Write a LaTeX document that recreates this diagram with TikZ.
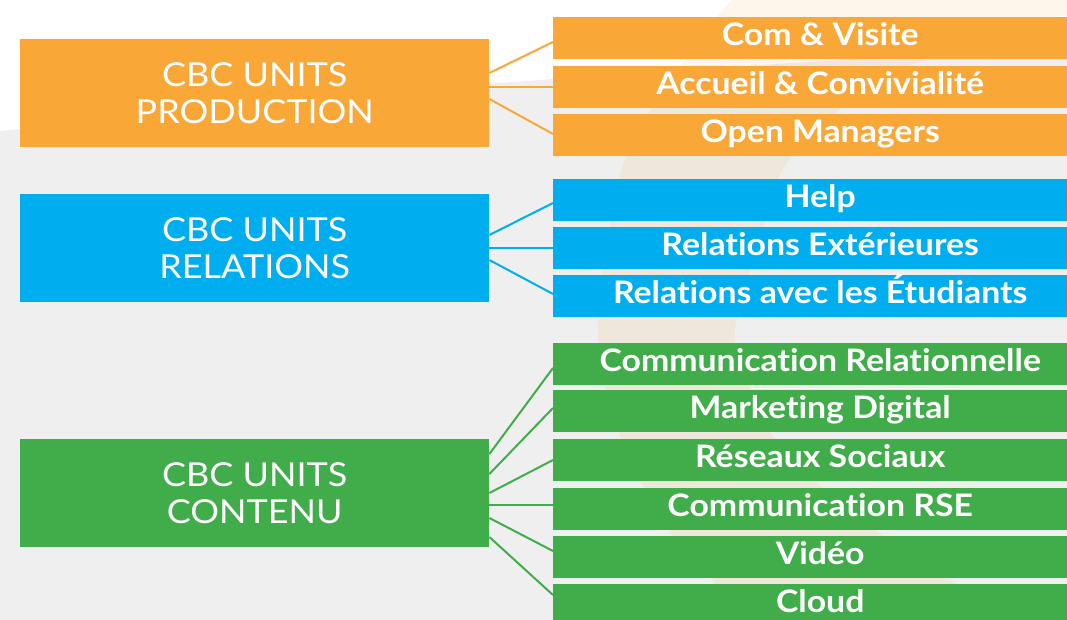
\documentclass[tikz,border=0pt]{standalone}
\usepackage{fontspec}
\setmainfont{Lato}[FakeStretch=1.09, Ligatures=NoCommon]
\usepackage{xcolor}
\usetikzlibrary{calc}

\definecolor{cbcorange}{HTML}{F9A838}
\definecolor{cbcblue}{HTML}{00AEEF}
\definecolor{cbcgreen}{HTML}{40AD4A}
\definecolor{cbcgray}{HTML}{EFEFEF}

\begin{document}
\begin{tikzpicture}[x=1pt, y=-1pt,
    unitbox/.style={anchor=north west, minimum width=469pt, minimum height=108pt,
      inner sep=0pt, align=center, text=white,
      font=\fontsize{33}{37}\selectfont},
    subbox/.style={anchor=north west, minimum width=534pt, minimum height=42pt,
      inner sep=0pt, text height=22pt, text depth=7pt, text=white,
      font=\bfseries\fontsize{31}{31}\selectfont},
    link/.style={line width=2pt}]
\useasboundingbox (0,0) rectangle (1067,620);
\clip (0,0) rectangle (1067,620);

% background
\fill[white] (0,0) rectangle (1067,620);
\fill[cbcgray] (0,131) .. controls (200,112) and (400,90) .. (553,79)
  .. controls (750,66) and (950,52) .. (1067,46) -- (1067,620) -- (0,620) -- cycle;
\fill[cbcorange, opacity=0.1]
  plot[smooth] coordinates {(760,-20) (717,17) (626,157) (598,330) (620,436) (670,533) (713,581) (760,640)}
  -- plot[smooth] coordinates {(1100,640) (950,581) (880,533) (820,485) (773,436) (750,387) (735,330) (760,240) (791,157) (900,70) (1120,0)}
  -- cycle;

% units
\node[unitbox, fill=cbcorange] (prod) at (20,39) {CBC UNITS\\PRODUCTION};
\node[unitbox, fill=cbcblue] (rel) at (20,194) {CBC UNITS\\RELATIONS};
\node[unitbox, fill=cbcgreen] (cont) at (20,439) {CBC UNITS\\CONTENU};

% production
\node[subbox, fill=cbcorange] (visite) at (553,17) {Com \& Visite};
\node[subbox, fill=cbcorange] (accueil) at (553,66) {Accueil \& Convivialité};
\node[subbox, fill=cbcorange] (managers) at (553,114) {Open Managers};

% relations
\node[subbox, fill=cbcblue] (help) at (553,179) {Help};
\node[subbox, fill=cbcblue] (exterieures) at (553,227) {Relations Extérieures};
\node[subbox, fill=cbcblue] (etudiants) at (553,275) {Relations avec les Étudiants};

% contenu
\node[subbox, fill=cbcgreen] (relationnelle) at (553,343) {Communication Relationnelle};
\node[subbox, fill=cbcgreen] (marketing) at (553,390) {Marketing Digital};
\node[subbox, fill=cbcgreen] (sociaux) at (553,439) {Réseaux Sociaux};
\node[subbox, fill=cbcgreen] (rse) at (553,488) {Communication RSE};
\node[subbox, fill=cbcgreen] (video) at (553,536) {Vidéo};
\node[subbox, fill=cbcgreen] (cloud) at (553,584) {Cloud};

% links
\draw[link, cbcorange] ($(prod.north east)+(0,34)$) -- ($(visite.north west)+(0,25)$);
\draw[link, cbcorange] ($(prod.north east)+(0,48)$) -- ($(accueil.north west)+(0,21)$);
\draw[link, cbcorange] ($(prod.north east)+(0,60)$) -- ($(managers.north west)+(0,20)$);

\draw[link, cbcblue] ($(rel.north east)+(0,41)$) -- ($(help.north west)+(0,24)$);
\draw[link, cbcblue] ($(rel.north east)+(0,54)$) -- ($(exterieures.north west)+(0,21)$);
\draw[link, cbcblue] ($(rel.north east)+(0,66)$) -- ($(etudiants.north west)+(0,19)$);

\draw[link, cbcgreen] ($(cont.north east)+(0,15)$) -- ($(relationnelle.north west)+(0,25)$);
\draw[link, cbcgreen] ($(cont.north east)+(0,35)$) -- ($(marketing.north west)+(0,18)$);
\draw[link, cbcgreen] ($(cont.north east)+(0,54)$) -- ($(sociaux.north west)+(0,21)$);
\draw[link, cbcgreen] ($(cont.north east)+(0,66)$) -- ($(rse.north west)+(0,17)$);
\draw[link, cbcgreen] ($(cont.north east)+(0,79)$) -- ($(video.north west)+(0,15)$);
\draw[link, cbcgreen] ($(cont.north east)+(0,98)$) -- ($(cloud.north west)+(0,11)$);
\end{tikzpicture}
\end{document}
